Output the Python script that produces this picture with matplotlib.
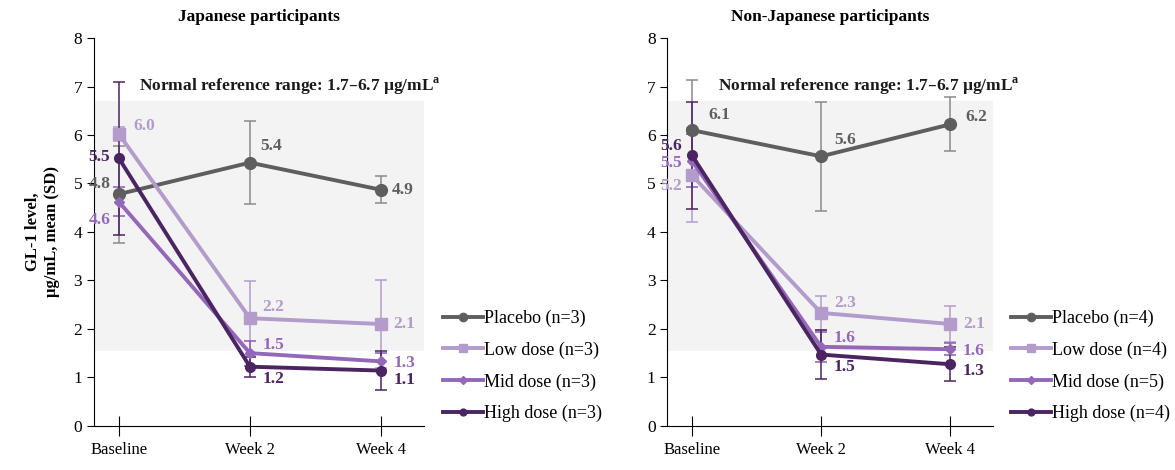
import matplotlib
matplotlib.use("Agg")
import matplotlib.pyplot as plt
import numpy as np

plt.rcParams["font.family"] = ["Liberation Serif", "DejaVu Serif"]

visitas = ["Baseline", "Week 2", "Week 4"]
grupos = ["Placebo", "Low dose", "Mid dose", "High dose"]

# Japanese participants
jp_n = [3, 3, 3, 3]
jp_media = {
    "Placebo": [4.78, 5.43, 4.87],
    "Low dose": [6.02, 2.22, 2.10],
    "Mid dose": [4.62, 1.50, 1.33],
    "High dose": [5.52, 1.22, 1.14],
}
jp_dp = {
    "Placebo": [1.00, 0.86, 0.28],
    "Low dose": [0.15, 0.76, 0.91],
    "Mid dose": [0.30, 0.26, 0.17],
    "High dose": [1.58, 0.21, 0.40],
}

# Non-Japanese participants
nj_n = [4, 4, 5, 4]
nj_media = {
    "Placebo": [6.10, 5.56, 6.22],
    "Low dose": [5.17, 2.33, 2.10],
    "Mid dose": [5.47, 1.63, 1.58],
    "High dose": [5.58, 1.47, 1.27],
}
nj_dp = {
    "Placebo": [1.03, 1.13, 0.56],
    "Low dose": [0.97, 0.35, 0.37],
    "Mid dose": [0.55, 0.31, 0.12],
    "High dose": [1.11, 0.50, 0.35],
}

faixa_ref = (1.55, 6.7)

CORES = {"Placebo": "#5e5e5e", "Low dose": "#b39bcc", "Mid dose": "#9468b8", "High dose": "#4b2462"}
CORES_ERRO = {"Placebo": "#8a8a8a", "Low dose": "#b39bcc", "Mid dose": "#8a5cb0", "High dose": "#4b2462"}
MARCAS = {"Placebo": ("o", 8.5), "Low dose": ("s", 9), "Mid dose": ("D", 5.5), "High dose": ("o", 7)}

# deslocamento dos rótulos (pontos de tela), por grupo e visita
OFF_JP = {
    "Placebo": [(-14, 7), (15, 12), (16, 0)],
    "Low dose": [(18, 6), (17, 8), (17, 0)],
    "Mid dose": [(-14, -13), (17, 6), (17, -1)],
    "High dose": [(-14, 1), (17, -9), (17, -7)],
}
OFF_NJ = {
    "Placebo": [(20, 11), (17, 12), (19, 5)],
    "Low dose": [(-15, -8), (17, 7), (17, 0)],
    "Mid dose": [(-15, -2), (17, 6), (17, -1)],
    "High dose": [(-15, 7), (17, -9), (17, -5)],
}


def painel(ax, media, dp, ns, offs, titulo, x_ref):
    x = np.arange(len(visitas))
    ax.axhspan(*faixa_ref, color="#f3f3f3", zorder=0, lw=0)
    for g, n in zip(grupos, ns):
        m, s = MARCAS[g]
        ax.errorbar(x, media[g], yerr=dp[g], fmt="none", ecolor=CORES_ERRO[g],
                    elinewidth=1.1, capsize=4.5, capthick=1.1, zorder=2)
        ax.plot(x, media[g], color=CORES[g], lw=2.8, marker=m, ms=s, zorder=3,
                label=f"{g} (n={n})")
        for xi, yi, (dx, dy) in zip(x, media[g], offs[g]):
            ax.annotate(f"{yi:.1f}", (xi, yi), xytext=(dx, dy), textcoords="offset points",
                        ha="center", va="center", fontsize=12.5, fontweight="bold",
                        color=CORES[g], zorder=4)
    ax.text(x_ref, 7.0, "Normal reference range: 1.7–6.7 µg/mL$^{\\mathregular{a}}$",
            fontsize=12.5, fontweight="bold", va="center", ha="left", color="#1a1a1a")
    ax.set_xlim(-0.19, 2.33)
    ax.set_ylim(0, 8)
    ax.set_xticks(x)
    ax.set_xticklabels(visitas, fontsize=12)
    ax.set_yticks(range(0, 9))
    ax.tick_params(axis="y", labelsize=12.5, length=5, direction="out")
    ax.tick_params(axis="x", direction="inout", length=14, pad=5)
    for lado in ("top", "right"):
        ax.spines[lado].set_visible(False)
    ax.set_title(titulo, fontsize=12.5, fontweight="bold", pad=12)
    ax.legend(loc="upper left", bbox_to_anchor=(1.035, 0.318), frameon=False, fontsize=13,
              handlelength=2.2, handletextpad=0.05, labelspacing=0.8, borderaxespad=0,
              markerscale=0.7)


fig = plt.figure(figsize=(11.75, 4.7), dpi=100)
ax1 = fig.add_axes([0.080, 0.094, 0.281, 0.825])
ax2 = fig.add_axes([0.568, 0.094, 0.277, 0.825])
painel(ax1, jp_media, jp_dp, jp_n, OFF_JP, "Japanese participants", 0.15)
painel(ax2, nj_media, nj_dp, nj_n, OFF_NJ, "Non-Japanese participants", 0.2)
ax1.set_ylabel("GL-1 level,\nµg/mL, mean (SD)", fontsize=12, fontweight="bold", labelpad=10)

fig.savefig("out.png", dpi=100, facecolor="white")
plt.close(fig)
